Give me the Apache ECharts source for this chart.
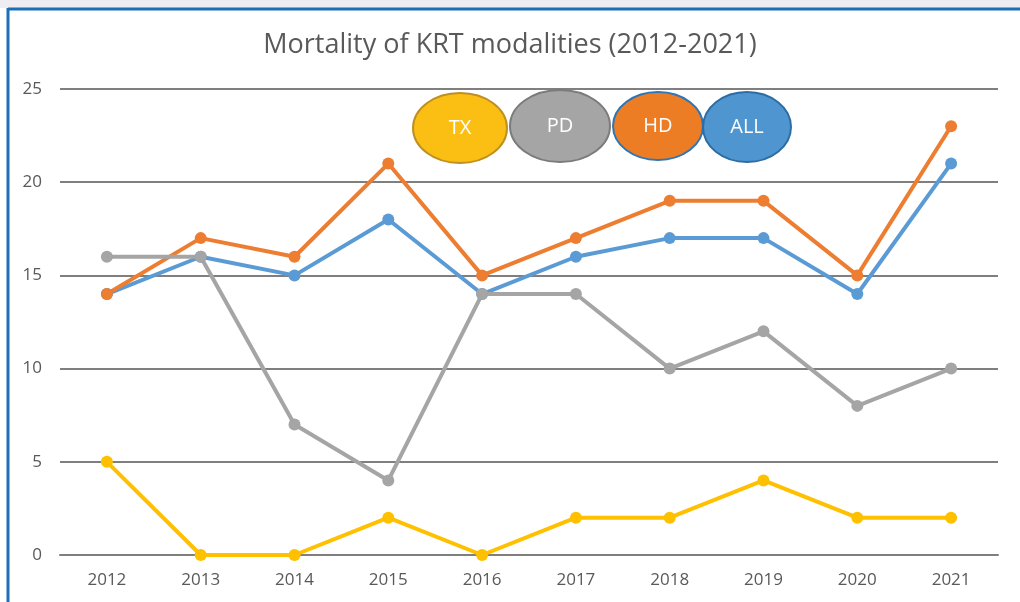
<!DOCTYPE html>
<html>
<head>
<meta charset="utf-8">
<title>Mortality of KRT modalities</title>
<script src="https://cdn.jsdelivr.net/npm/echarts@6/dist/echarts.min.js"></script>
<style>
    html, body { margin: 0; padding: 0; background: #fff; }
    #main { width: 1020px; height: 602px; }
</style>
</head>
<body>
<div id="main"></div>
<script>
// years on the x axis
var years = ['2012', '2013', '2014', '2015', '2016', '2017', '2018', '2019', '2020', '2021'];

// deaths per modality
var allData = [14, 16, 15, 18, 14, 16, 17, 17, 14, 21];
var hdData = [14, 17, 16, 21, 15, 17, 19, 19, 15, 23];
var pdData = [16, 16, 7, 4, 14, 14, 10, 12, 8, 10];
var txData = [5, 0, 0, 2, 0, 2, 2, 4, 2, 2];

var legendNames = ['TX', 'PD', 'HD', 'ALL'];

// colours of the series (office palette)
var colors = {
    TX: '#FFC000',
    PD: '#A5A5A5',
    HD: '#ED7D31',
    ALL: '#5B9BD5'
};

// the legend in the picture is four hand drawn ellipses
var bubbles = {
    TX: { cx: 460, cy: 128, rx: 47, ry: 35, fill: '#FBBF14', stroke: '#BF9021' },
    PD: { cx: 560, cy: 126, rx: 50, ry: 36, fill: '#A5A5A5', stroke: '#7B7B7B' },
    HD: { cx: 658, cy: 126, rx: 45, ry: 34, fill: '#ED7D24', stroke: '#2E75B6' },
    ALL: { cx: 747, cy: 127, rx: 44, ry: 35, fill: '#4F96D0', stroke: '#2E6DA4' }
};

var graphics = [
    // strip of page above the frame
    { type: 'rect', shape: { x: 0, y: 0, width: 1020, height: 8 }, style: { fill: '#EEEDF1' }, z: 1 },
    // blue frame
    { type: 'line', shape: { x1: 8, y1: 9, x2: 1020, y2: 9 }, style: { stroke: '#1C6FB7', lineWidth: 3 }, z: 2 },
    { type: 'line', shape: { x1: 8, y1: 8, x2: 8, y2: 602 }, style: { stroke: '#1C6FB7', lineWidth: 3 }, z: 2 }
];

legendNames.forEach(function (name) {
    var b = bubbles[name];
    graphics.push({
        type: 'ellipse',
        shape: { cx: b.cx, cy: b.cy, rx: b.rx, ry: b.ry },
        style: { fill: b.fill, stroke: b.stroke, lineWidth: 2 },
        z: 20
    });
    graphics.push({
        type: 'text',
        x: b.cx,
        y: b.cy,
        style: {
            text: name,
            fill: '#fff',
            font: '20px "Open Sans", sans-serif',
            align: 'center',
            verticalAlign: 'middle'
        },
        z: 21
    });
});

function lineSeries(name, data) {
    return {
        name: name,
        type: 'line',
        data: data,
        symbol: 'circle',
        symbolSize: 12,
        lineStyle: { width: 4, color: colors[name] },
        itemStyle: { color: colors[name] },
        emphasis: { disabled: true },
        animation: false
    };
}

var chart = echarts.init(document.getElementById('main'), null, { renderer: 'canvas' });
chart.setOption({
    backgroundColor: '#fff',
    title: {
        text: 'Mortality of KRT modalities (2012-2021)',
        left: 'center',
        top: 27,
        textStyle: {
            color: '#595959',
            fontSize: 27,
            fontWeight: 'normal',
            fontFamily: '"Open Sans", sans-serif'
        }
    },
    grid: {
        left: 60,
        right: 22,
        top: 89,
        bottom: 47
    },
    xAxis: {
        type: 'category',
        data: years,
        boundaryGap: true,
        axisLine: { show: true, lineStyle: { color: '#7F7F7F', width: 2 } },
        axisTick: { show: false },
        axisLabel: {
            color: '#595959',
            fontSize: 17,
            margin: 17,
            fontFamily: '"Open Sans", sans-serif'
        }
    },
    yAxis: {
        type: 'value',
        min: 0,
        max: 25,
        interval: 5,
        axisLine: { show: false },
        axisTick: { show: false },
        axisLabel: {
            color: '#595959',
            fontSize: 17,
            margin: 18,
            fontFamily: '"Open Sans", sans-serif'
        },
        splitLine: { lineStyle: { color: '#7F7F7F', width: 2 } }
    },
    series: [
        lineSeries('ALL', allData),
        lineSeries('HD', hdData),
        lineSeries('PD', pdData),
        lineSeries('TX', txData)
    ],
    graphic: graphics
});
</script>
</body>
</html>
